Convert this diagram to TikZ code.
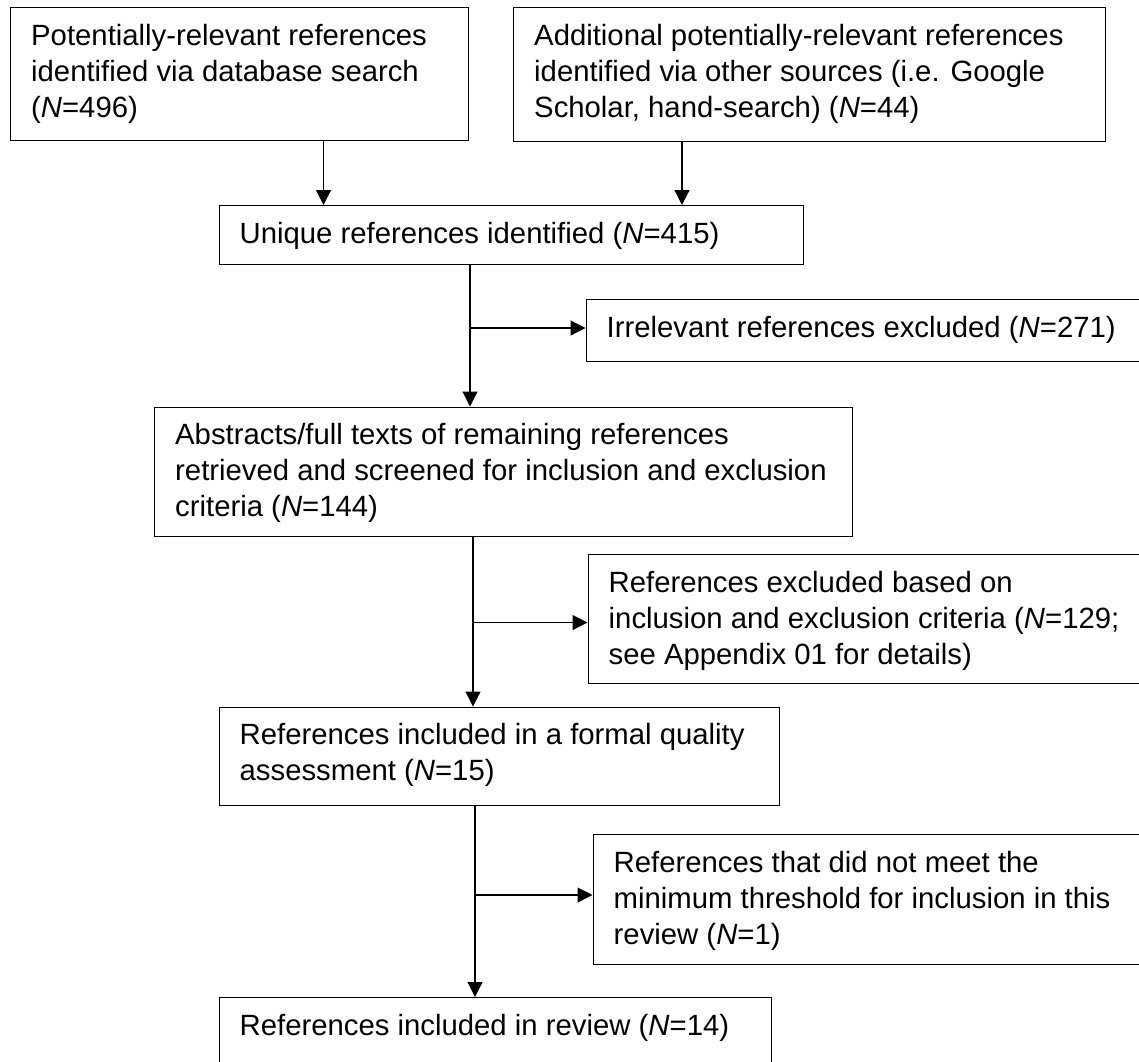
\documentclass[tikz,border=0pt]{standalone}
\usepackage{fontspec}
\setmainfont{Liberation Sans}
\usetikzlibrary{arrows.meta}
\begin{document}
\begin{tikzpicture}[x=1pt,y=-1pt,
  box/.style={draw=black, line width=1.4pt, rectangle, inner sep=0pt, anchor=north west},
  txt/.style={anchor=north west, inner sep=0pt, align=left, font=\fontsize{29.3}{36}\selectfont},
  arr/.style={line width=1.1pt, -{Triangle[length=15pt,width=15pt]}},
  ln/.style={line width=1.1pt}]
\useasboundingbox (0,0) rectangle (1139,1061);
\clip (0,0) rectangle (1139,1061);
% boxes
\node[box, minimum width=458pt, minimum height=133pt] (b1) at (10,7) {};
\node[box, minimum width=592pt, minimum height=134pt] (b2) at (513,7) {};
\node[box, minimum width=584pt, minimum height=59pt] (uniq) at (218.5,205) {};
\node[box, minimum width=580pt, minimum height=62pt] (irr) at (585.5,299) {};
\node[box, minimum width=698pt, minimum height=129.5pt] (abs) at (153.5,406.5) {};
\node[box, minimum width=580pt, minimum height=129pt] (exc) at (587.5,554) {};
\node[box, minimum width=560pt, minimum height=98pt] (formal) at (218.5,706.5) {};
\node[box, minimum width=580pt, minimum height=130pt] (didnot) at (592.5,834) {};
\node[box, minimum width=552pt, minimum height=90pt] (review) at (218.5,997) {};
% texts
\node[txt] (t1) at ([shift={(21pt,-12.8pt)}]b1.north west) {\strut Potentially-relevant references\\identified via database search\\(\textit{N}=496)};
\node[txt] (t2) at ([shift={(21pt,-12.8pt)}]b2.north west) {\strut Additional potentially-relevant references\\identified via other sources (i.e. Google\\Scholar, hand-search) (\textit{N}=44)};
\node[txt] (t3) at ([shift={(21pt,-12.8pt)}]uniq.north west) {\strut Unique references identified (\textit{N}=415)};
\node[txt] (t4) at ([shift={(21pt,-12.8pt)}]irr.north west) {\strut Irrelevant references excluded (\textit{N}=271)};
\node[txt] (t5) at ([shift={(21.5pt,-12.8pt)}]abs.north west) {\strut Abstracts/full texts of remaining references\\retrieved and screened for inclusion and exclusion\\criteria (\textit{N}=144)};
\node[txt] (t6) at ([shift={(21pt,-12.8pt)}]exc.north west) {\strut References excluded based on\\inclusion and exclusion criteria (\textit{N}=129;\\see Appendix 01 for details)};
\node[txt] (t7) at ([shift={(21pt,-12.8pt)}]formal.north west) {\strut References included in a formal quality\\assessment (\textit{N}=15)};
\node[txt] (t8) at ([shift={(21pt,-12.8pt)}]didnot.north west) {\strut References that did not meet the\\minimum threshold for inclusion in this\\review (\textit{N}=1)};
\node[txt] (t9) at ([shift={(21pt,-12.8pt)}]review.north west) {\strut References included in review (\textit{N}=14)};
% connector guides
\coordinate (x1) at (323.5,0);
\coordinate (x2) at (682,0);
\coordinate (x3) at (470,0);
\coordinate (x4) at (473,0);
\coordinate (x5) at (475,0);
\coordinate (y1) at (0,328);
\coordinate (y2) at (0,622.5);
\coordinate (y3) at (0,895);
% connectors
\draw[arr] (b1.south -| x1) -- (uniq.north -| x1);
\draw[arr] (b2.south -| x2) -- (uniq.north -| x2);
\draw[arr] (uniq.south -| x3) -- (abs.north -| x3);
\draw[arr] (x3 |- y1) -- (irr.west |- y1);
\draw[arr] (abs.south -| x4) -- (formal.north -| x4);
\draw[arr] (x4 |- y2) -- (exc.west |- y2);
\draw[arr] (formal.south -| x5) -- (review.north -| x5);
\draw[arr] (x5 |- y3) -- (didnot.west |- y3);
\end{tikzpicture}
\end{document}
